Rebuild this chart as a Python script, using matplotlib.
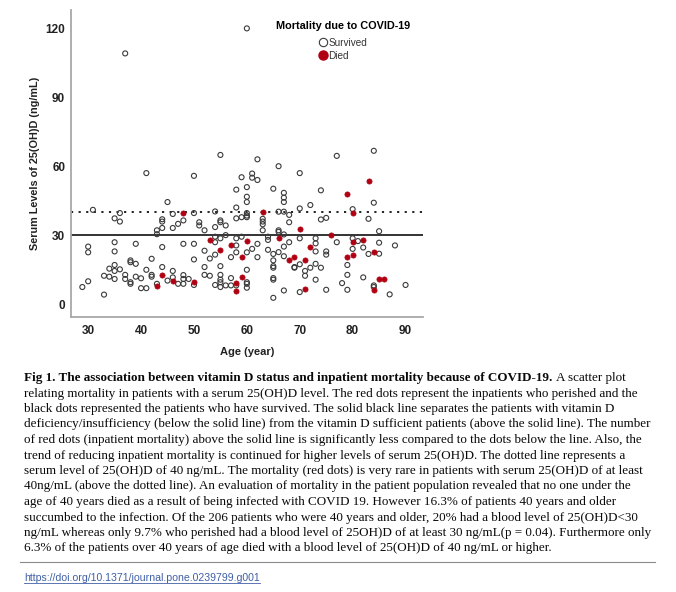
import matplotlib
matplotlib.use("Agg")
import matplotlib.pyplot as plt
from matplotlib.lines import Line2D

# ---------------- data ----------------
survived_age = [28.9, 30, 30, 30, 30.9,
    33, 33, 34, 34, 35, 35, 35, 35, 35, 35, 36, 36, 36,
    37, 37, 37, 38, 38, 38, 38, 39, 39, 39,
    40, 40, 41, 41, 41,
    42, 42, 42,
    43, 43, 43,
    44, 44, 44, 44, 44,
    45, 45,
    46, 46, 46, 46,
    47, 47,
    48, 48, 48, 48, 48,
    49,
    50, 50, 50, 50, 50,
    51, 51,
    52, 52, 52, 52,
    53, 53,
    54, 54, 54, 54, 54, 54,
    55, 55, 55, 55, 55, 55, 55, 55, 55,
    56, 56, 56,
    57, 57, 57,
    58, 58, 58, 58, 58, 58, 58,
    59, 59, 59,
    60, 60, 60, 60, 60, 60, 60, 60, 60, 60, 60, 60,
    61, 61, 61,
    62, 62, 62, 62,
    63, 63, 63, 63,
    64, 64, 64,
    65, 65, 65, 65, 65, 65, 65, 65,
    66, 66, 66, 66, 66,
    67, 67, 67, 67, 67, 67, 67, 67,
    68, 68, 68,
    69, 69,
    70, 70, 70, 70, 70,
    71, 71,
    72, 72,
    73, 73, 73, 73, 73,
    74, 74, 74,
    75, 75, 75, 75,
    77, 77,
    78,
    79, 79, 79,
    80, 80, 80,
    81,
    82, 82,
    83, 83,
    84, 84, 84, 84,
    85, 85, 85,
    87,
    88,
    90]
survived_level = [7.4, 25.0, 22.5, 9.9, 41.0,
    4.1, 12.3, 15.4, 11.9, 10.9, 26.9, 22.9, 17.0, 14.4, 37.3, 35.9, 39.6, 15.1,
    109.1, 12.7, 10.9, 19.0, 18.2, 9.5, 8.8, 17.5, 26.2, 11.9,
    11.2, 6.9, 6.9, 14.9, 57.0,
    19.7, 12.7, 11.9,
    8.8, 30.4, 32.1,
    36.9, 35.9, 16.1, 24.8, 33.1,
    10.2, 44.4,
    14.4, 39.2, 33.1, 11.6,
    34.9, 8.8,
    36.4, 26.2, 12.6, 10.9, 8.8,
    10.9,
    8.3, 26.2, 19.4, 39.6, 55.8,
    35.6, 34.2,
    32.1, 23.2, 16.1, 12.7,
    19.8, 12.3,
    40.3, 33.5, 29.3, 21.5, 8.3, 26.9,
    64.9, 36.4, 35.6, 28.6, 16.5, 12.7, 10.6, 9.5, 7.4,
    34.2, 30.0, 8.1,
    20.4, 11.3, 8.1,
    49.8, 42.0, 37.3, 28.6, 25.5, 22.5, 8.1,
    55.2, 37.8, 29.3,
    120.0, 50.9, 46.7, 44.4, 39.6, 38.5, 37.8, 22.5, 14.9, 9.5, 8.8, 7.1,
    56.8, 55.0, 24.0,
    63.0, 54.0, 26.2, 20.4,
    37.1, 35.9, 34.7, 32.1,
    29.3, 27.9, 23.6,
    50.2, 21.8, 19.0, 16.5, 15.8, 11.3, 10.6, 2.7,
    60.0, 40.2, 32.1, 31.4, 22.6,
    48.4, 46.3, 44.4, 40.2, 30.3, 25.0, 20.8, 5.9,
    38.8, 35.6, 26.9,
    16.1, 15.8,
    57.0, 41.6, 28.6, 17.3, 5.2,
    14.4, 12.3,
    43.1, 15.8,
    28.6, 26.4, 22.9, 17.5, 10.6,
    49.5, 36.8, 15.8,
    37.5, 22.9, 21.5, 6.2,
    64.5, 26.9,
    9.1,
    17.0, 12.7, 6.2,
    41.3, 28.6, 24.0,
    27.4,
    24.6, 11.6,
    37.1, 21.8,
    66.7, 44.1, 8.1, 7.4,
    31.7, 26.7, 21.9,
    4.2,
    25.5,
    8.3]

died_age = [43, 44, 46, 48, 50, 53, 55, 57, 58, 58, 59, 59, 60, 63, 66, 68, 69,
            70, 71, 71, 72, 76, 79, 79, 80, 80, 80, 82, 83, 84, 84, 85, 86]
died_level = [7.9, 12.6, 9.9, 39.6, 9.8, 27.9, 23.5, 25.5, 9.3, 5.7, 20.4, 11.9,
              27.4, 40.2, 28.9, 19.0, 20.4, 32.5, 19.0, 6.6, 25.0, 30.0, 47.7,
              20.4, 39.6, 26.9, 21.5, 27.9, 53.5, 22.6, 5.9, 10.9, 10.9]

x_ticks = [30, 40, 50, 60, 70, 80, 90]
y_ticks = [0, 30, 60, 90, 120]
sufficiency_level = 30
dotted_level = 40

x_label = "Age (year)"
y_label = "Serum Levels of 25(OH)D (ng/mL)"
legend_title = "Mortality due to COVID-19"
legend_labels = ["Survived", "Died"]

caption_bold = "Fig 1. The association between vitamin D status and inpatient mortality because of COVID-19."
caption_first_rest = "A scatter plot"
caption_lines = [
    "relating mortality in patients with a serum 25(OH)D level. The red dots represent the inpatients who perished and the",
    "black dots represented the patients who have survived. The solid black line separates the patients with vitamin D",
    "deficiency/insufficiency (below the solid line) from the vitamin D sufficient patients (above the solid line). The number",
    "of red dots (inpatient mortality) above the solid line is significantly less compared to the dots below the line. Also, the",
    "trend of reducing inpatient mortality is continued for higher levels of serum 25(OH)D. The dotted line represents a",
    "serum level of 25(OH)D of 40 ng/mL. The mortality (red dots) is very rare in patients with serum 25(OH)D of at least",
    "40ng/mL (above the dotted line). An evaluation of mortality in the patient population revealed that no one under the",
    "age of 40 years died as a result of being infected with COVID 19. However 16.3% of patients 40 years and older",
    "succumbed to the infection. Of the 206 patients who were 40 years and older, 20% had a blood level of 25(OH)D<30",
    "ng/mL whereas only 9.7% who perished had a blood level of 25OH)D of at least 30 ng/mL(p = 0.04). Furthermore only",
    "6.3% of the patients over 40 years of age died with a blood level of 25(OH)D of 40 ng/mL or higher.",
]
doi_text = "https://doi.org/10.1371/journal.pone.0239799.g001"

# ---------------- figure ----------------
W, H = 676, 592
fig = plt.figure(figsize=(W / 100, H / 100), dpi=100)
plt.rcParams['font.family'] = ['Liberation Sans', 'DejaVu Sans']

def fx(px):
    return px / W

def fy(py):
    return 1 - py / H

ax_l, ax_r, ax_t, ax_b = 70.7, 423, 10, 317
ax = fig.add_axes([fx(ax_l), fy(ax_b), fx(ax_r - ax_l), (ax_b - ax_t) / H])

died_color = '#b00012'
edge_col = '#3a3a3a'

ax.scatter(survived_age, survived_level, s=13, facecolors='none',
           edgecolors=edge_col, linewidths=0.8, zorder=3)
ax.scatter(died_age, died_level, s=14, c=died_color, edgecolors=died_color,
           linewidths=0.5, zorder=4)

ax.axhline(sufficiency_level, color='#111111', lw=1.2, zorder=2)
ax.axhline(dotted_level, color='#111111', lw=1.3, ls=(0, (1.2, 3.0)), zorder=2)

ax.set_xlim(26.7, 93.3)
ax.set_ylim(-5.65, 128)
ax.set_xticks(x_ticks)
ax.set_yticks(y_ticks)
ax.tick_params(length=0, labelsize=8.5, colors='#222222')
ax.tick_params(axis='x', pad=6)
ax.tick_params(axis='y', pad=4)
for lab in ax.get_xticklabels() + ax.get_yticklabels():
    lab.set_fontweight('bold')
for s in ['top', 'right']:
    ax.spines[s].set_visible(False)
for s in ['left', 'bottom']:
    ax.spines[s].set_color('#a8a8a8')
    ax.spines[s].set_linewidth(1.3)

ax.set_xlabel(x_label, fontsize=8, fontweight='bold', color='#222222', labelpad=7)
ax.set_ylabel(y_label, fontsize=7.8, fontweight='bold', color='#222222', labelpad=4)

handles = [
    Line2D([], [], marker='o', ls='none', markersize=6, markerfacecolor='none',
           markeredgecolor=edge_col, markeredgewidth=0.8),
    Line2D([], [], marker='o', ls='none', markersize=6.5, markerfacecolor=died_color,
           markeredgecolor=died_color),
]
leg = ax.legend(handles, legend_labels, title=legend_title, loc='upper center',
                bbox_to_anchor=(fx(343), fy(21)), bbox_transform=fig.transFigure,
                frameon=False, fontsize=7.2, handlelength=0.8, handletextpad=0.1,
                labelspacing=0.3, borderpad=0, borderaxespad=0,
                title_fontproperties={'weight': 'bold', 'size': 7.8})
leg._legend_box.sep = 5
for t in leg.get_texts():
    t.set_color('#333333')

# ---------------- caption ----------------
renderer = fig.canvas.get_renderer()
serif = ['Liberation Serif', 'DejaVu Serif']
probe = fig.text(0, 0, caption_lines[2], family=serif, size=10)
w = probe.get_window_extent(renderer).width
probe.remove()
fs = 10 * (652 - 24) / w

x0 = 24
base0 = 381
step = 15.5
txt_col = '#0a0a0a'
tb = fig.text(fx(x0), fy(base0), caption_bold, family=serif, size=fs,
              weight='bold', va='baseline', ha='left', color=txt_col)
bw = tb.get_window_extent(renderer).width
fig.text(fx(x0 + bw + fs * 100 / 72 * 0.25), fy(base0), caption_first_rest,
         family=serif, size=fs, va='baseline', ha='left', color=txt_col)
for i, line in enumerate(caption_lines):
    fig.text(fx(x0), fy(base0 + step * (i + 1)), line, family=serif, size=fs,
             va='baseline', ha='left', color=txt_col)

# separator
fig.add_artist(Line2D([fx(20), fx(655)], [fy(562), fy(562)], color='#8a8a8a', lw=0.8))

# doi link
sans = ['Liberation Sans', 'DejaVu Sans']
doi_base = 581
dt = fig.text(fx(24), fy(doi_base), doi_text, family=sans, size=7.6,
              color='#3f5fa6', va='baseline', ha='left')
dw = dt.get_window_extent(renderer).width
fig.add_artist(Line2D([fx(24), fx(24 + dw)], [fy(doi_base + 2), fy(doi_base + 2)],
                      color='#3f5fa6', lw=0.6))

fig.savefig("out.png", dpi=100)
